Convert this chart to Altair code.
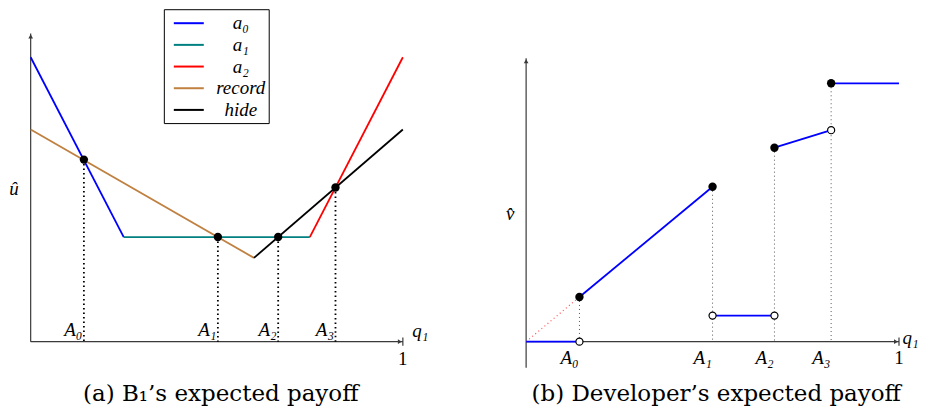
import altair as alt
import pandas as pd

# ---------------- Panel (a): B1's expected payoff ----------------
series_names = ["a₀", "a₁", "a₂", "record", "hide"]
series_colors = ["#0000ff", "#008080", "#ff0000", "#bf8040", "#000000"]
series_q = [[0.0, 0.25], [0.25, 0.75], [0.75, 1.0], [0.0, 0.6], [0.6, 1.0]]
series_u = [[0.764, 0.281], [0.281, 0.281], [0.281, 0.764], [0.570, 0.225], [0.225, 0.570]]

cut_names = ["A₀", "A₁", "A₂", "A₃"]
a_cut_q = [0.143, 0.503, 0.665, 0.819]
a_cut_u = [0.489, 0.281, 0.281, 0.414]
a_axis_top = 0.828

# ---------------- Panel (b): Developer's expected payoff ----------------
b_cut_q = [0.143, 0.500, 0.666, 0.818]
b_seg_q = [[0.0, 0.143], [0.143, 0.500], [0.500, 0.666], [0.666, 0.818], [0.818, 1.0]]
b_seg_v = [[0.0, 0.0], [0.120, 0.416], [0.070, 0.070], [0.521, 0.568], [0.694, 0.694]]
b_filled_v = [0.120, 0.416, 0.521, 0.694]
b_open_v = [0.0, 0.070, 0.070, 0.568]
b_red_q = [0.0, 0.143]
b_red_v = [0.0, 0.120]
b_axis_top = 0.761
b_axis_bottom = -0.070

SERIF = "Liberation Serif"
CAPTION_FONT = "DejaVu Serif"
AXIS_COL = "#3a3a3a"
Y_DOM = [-0.073, 0.893]


def enc(xdom, ydom):
    xs = alt.Scale(domain=xdom, nice=False, zero=False)
    ys = alt.Scale(domain=ydom, nice=False, zero=False)
    return xs, ys


def axes_layers(xs, ys, y_bottom, y_top):
    ax = pd.DataFrame({"x": [0.0, 0.0, 1.0], "y": [0.0, y_bottom, -0.011],
                       "x2": [1.0, 0.0, 1.0], "y2": [0.0, y_top, 0.011]})
    rules = alt.Chart(ax).mark_rule(color=AXIS_COL, strokeWidth=1.2).encode(
        x=alt.X("x:Q", scale=xs, axis=None), y=alt.Y("y:Q", scale=ys, axis=None),
        x2="x2:Q", y2="y2:Q")
    heads = pd.DataFrame({"x": [0.992, 0.0], "y": [0.0, y_top - 0.008],
                          "shape": ["triangle-right", "triangle-up"]})
    arrows = alt.Chart(heads).mark_point(filled=True, size=22, opacity=1, color=AXIS_COL).encode(
        x=alt.X("x:Q", scale=xs, axis=None), y=alt.Y("y:Q", scale=ys, axis=None),
        shape=alt.Shape("shape:N", scale=None, legend=None))
    return [rules, arrows]


def text_layer(df, xs, ys, **kw):
    return alt.Chart(df).mark_text(font=SERIF, fontSize=19, color="black", **kw).encode(
        x=alt.X("x:Q", scale=xs, axis=None), y=alt.Y("y:Q", scale=ys, axis=None), text="t:N")


# ---------- build panel (a) ----------
xa, ya = enc([-0.0609, 1.120], Y_DOM)
rows = []
for name, qs, us in zip(series_names, series_q, series_u):
    for k, (q, u) in enumerate(zip(qs, us)):
        rows.append({"series": name, "q": q, "u": u, "k": k})
df_a = pd.DataFrame(rows)

lines_a = alt.Chart(df_a).mark_line(strokeWidth=1.8).encode(
    x=alt.X("q:Q", scale=xa, axis=None),
    y=alt.Y("u:Q", scale=ya, axis=None),
    order="k:Q",
    color=alt.Color("series:N", scale=alt.Scale(domain=series_names, range=series_colors),
                    legend=alt.Legend(title=None, orient="none", legendX=156, legendY=0,
                                      symbolType="M-1.5,0H1.5", symbolSize=400,
                                      symbolStrokeWidth=2, symbolOffset=11,
                                      labelFont=SERIF, labelFontStyle="italic", labelFontSize=19,
                                      labelAlign="center", labelOffset=41, labelColor="black",
                                      strokeColor="black", fillColor="white", padding=3,
                                      rowPadding=0.7)))

df_cut_a = pd.DataFrame({"q": a_cut_q, "u": a_cut_u, "z": [0.0] * 4})
drops_a = alt.Chart(df_cut_a).mark_rule(color="black", strokeWidth=1.8, strokeDash=[1.5, 3]).encode(
    x=alt.X("q:Q", scale=xa, axis=None), y=alt.Y("u:Q", scale=ya, axis=None), y2="z:Q")
dots_a = alt.Chart(df_cut_a).mark_circle(size=70, color="black", opacity=1).encode(
    x=alt.X("q:Q", scale=xa, axis=None), y=alt.Y("u:Q", scale=ya, axis=None))

lab_a = pd.DataFrame({"x": [q - 0.004 for q in a_cut_q], "y": [0.015] * 4, "t": cut_names})
texts_a = text_layer(lab_a, xa, ya, align="right", baseline="alphabetic", fontStyle="italic")
misc_a_it = pd.DataFrame({"x": [1.047, -0.045], "y": [0.029, 0.41], "t": ["q₁", "û"]})
texts_a2 = text_layer(misc_a_it, xa, ya, align="center", baseline="middle", fontStyle="italic")
one_a = pd.DataFrame({"x": [1.0], "y": [-0.047], "t": ["1"]})
texts_a3 = text_layer(one_a, xa, ya, align="center", baseline="middle")

panel_a = alt.layer(*axes_layers(xa, ya, 0.0, a_axis_top), drops_a, lines_a, dots_a,
                    texts_a, texts_a2, texts_a3).properties(
    width=440, height=360,
    title=alt.TitleParams(text="(a) B₁’s expected payoff", orient="bottom", font=CAPTION_FONT,
                          fontSize=23, fontWeight="normal", color="black", offset=14,
                          anchor="middle", dx=-7))

# ---------- build panel (b) ----------
xb, yb = enc([-0.2108, 1.0215], Y_DOM)
rows = []
for s, (qs, vs) in enumerate(zip(b_seg_q, b_seg_v)):
    for k, (q, v) in enumerate(zip(qs, vs)):
        rows.append({"seg": s, "q": q, "v": v, "k": k})
df_b = pd.DataFrame(rows)
lines_b = alt.Chart(df_b).mark_line(strokeWidth=1.8, color="#0000ff").encode(
    x=alt.X("q:Q", scale=xb, axis=None), y=alt.Y("v:Q", scale=yb, axis=None),
    detail="seg:N", order="k:Q")

df_red = pd.DataFrame({"q": b_red_q, "v": b_red_v})
red_b = alt.Chart(df_red).mark_line(strokeWidth=1.2, color="#ff5050", strokeDash=[1, 3]).encode(
    x=alt.X("q:Q", scale=xb, axis=None), y=alt.Y("v:Q", scale=yb, axis=None))

df_cut_b = pd.DataFrame({"q": b_cut_q, "v": b_filled_v, "o": b_open_v, "z": [0.0] * 4})
drops_b = alt.Chart(df_cut_b).mark_rule(color="#555555", strokeWidth=1, strokeDash=[1, 3]).encode(
    x=alt.X("q:Q", scale=xb, axis=None), y=alt.Y("v:Q", scale=yb, axis=None), y2="z:Q")
filled_b = alt.Chart(df_cut_b).mark_circle(size=70, color="black", opacity=1).encode(
    x=alt.X("q:Q", scale=xb, axis=None), y=alt.Y("v:Q", scale=yb, axis=None))
open_b = alt.Chart(df_cut_b).mark_point(size=50, shape="circle", filled=False, fill="white",
                                        fillOpacity=1, stroke="black", strokeWidth=1.2,
                                        opacity=1).encode(
    x=alt.X("q:Q", scale=xb, axis=None), y=alt.Y("o:Q", scale=yb, axis=None))

lab_b = pd.DataFrame({"x": [q - 0.002 for q in b_cut_q], "y": [-0.060] * 4, "t": cut_names})
texts_b = text_layer(lab_b, xb, yb, align="right", baseline="alphabetic", fontStyle="italic")
misc_b_it = pd.DataFrame({"x": [1.031, -0.043], "y": [0.010, 0.343], "t": ["q₁", "v̂"]})
texts_b2 = text_layer(misc_b_it, xb, yb, align="center", baseline="middle", fontStyle="italic")
one_b = pd.DataFrame({"x": [1.0], "y": [-0.060], "t": ["1"]})
texts_b3 = text_layer(one_b, xb, yb, align="center", baseline="alphabetic")

panel_b = alt.layer(*axes_layers(xb, yb, b_axis_bottom, b_axis_top), drops_b, red_b, lines_b,
                    filled_b, open_b, texts_b, texts_b2, texts_b3).properties(
    width=460, height=360,
    title=alt.TitleParams(text="(b) Developer’s expected payoff", orient="bottom",
                          font=CAPTION_FONT, fontSize=23, fontWeight="normal", color="black",
                          offset=14, anchor="middle", dx=39))

chart = alt.hconcat(panel_a, panel_b, spacing=0, bounds="flush").properties(
    padding=0).configure_view(strokeWidth=0).resolve_scale(color="independent")

chart.save("out.html", embed_options={"renderer": "svg", "actions": False})
